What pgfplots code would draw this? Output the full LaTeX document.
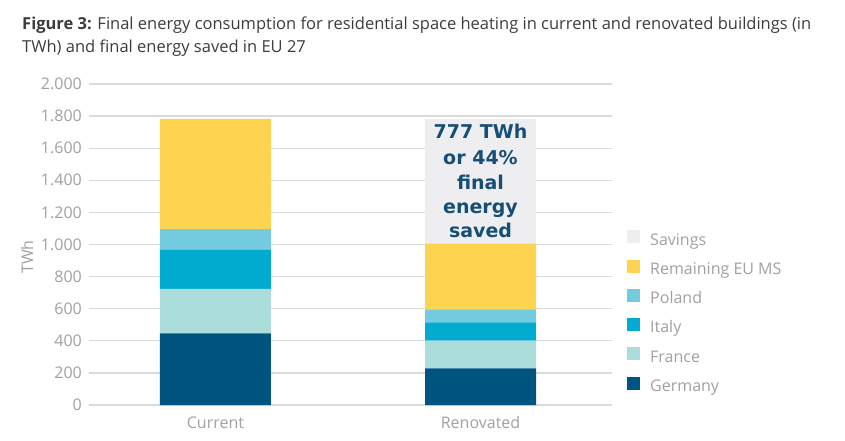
\documentclass[border=0pt]{standalone}
\usepackage{fontspec}
\setmainfont{Open Sans}
\newfontfamily\labfont{DejaVu Sans}
\usepackage{pgfplots}
\pgfplotsset{compat=1.18}
\definecolor{cGermany}{RGB}{0,84,128}
\definecolor{cFrance}{RGB}{171,221,218}
\definecolor{cItaly}{RGB}{0,171,207}
\definecolor{cPoland}{RGB}{116,203,224}
\definecolor{cRemain}{RGB}{253,211,79}
\definecolor{cSavings}{RGB}{238,238,240}
\definecolor{titlegray}{RGB}{60,60,60}
\definecolor{tickgray}{RGB}{160,160,160}
\definecolor{gridgray}{RGB}{218,218,218}
\definecolor{labblue}{RGB}{22,78,117}
\begin{document}
\begin{tikzpicture}[x=1pt,y=1pt]
\useasboundingbox (0,0) rectangle (845,-441);
\node[anchor=base west, inner sep=0pt, font=\fontsize{16.5}{19}\selectfont, text=titlegray] at (22,-30)
  {\textbf{Figure 3:} Final energy consumption for residential space heating in current and renovated buildings (in};
\node[anchor=base west, inner sep=0pt, font=\fontsize{16.5}{19}\selectfont, text=titlegray] at (22,-53)
  {TWh) and final energy saved in EU 27};
\begin{axis}[
  at={(89pt,-405pt)}, anchor=south west,
  scale only axis, width=523pt, height=321pt,
  ybar stacked, bar width=111pt,
  xmin=-0.477, xmax=1.496, ymin=0, ymax=2000,
  ytick={0,200,...,2000},
  xtick={0,1}, xticklabels={Current,Renovated},
  ymajorgrids, grid style={draw=gridgray, line width=1.3pt},
  axis line style={draw=none},
  major tick length=0pt,
  tick label style={font=\fontsize{16}{19}\selectfont, text=tickgray},
  yticklabel style={inner sep=0pt, xshift=-7pt},
  xticklabel style={inner sep=0pt, anchor=base, yshift=-23pt},
  ylabel={TWh},
  ylabel style={at={(axis description cs:-0.107,0.461)}, anchor=base, font=\fontsize{16}{19}\selectfont, text=tickgray},
  /pgf/number format/1000 sep={.},
  /pgf/number format/assume math mode=true,
  reverse legend,
  legend style={at={(axis description cs:1.0287,0.545)}, anchor=north west, draw=none, fill=none,
    inner sep=0pt, font=\fontsize{16}{19}\selectfont, text=tickgray, row sep=11pt,
    nodes={inner sep=0pt, text height=11pt, text depth=3.5pt}},
  legend cell align=left,
  legend image code/.code={\fill[#1,draw=none] (0pt,-2pt) rectangle (13pt,11pt); \path (23pt,0pt);},
]
\addplot[fill=cGermany, draw=none] coordinates {(0,447) (1,228)};
\addplot[fill=cFrance, draw=none] coordinates {(0,276) (1,173)};
\addplot[fill=cItaly, draw=none] coordinates {(0,243) (1,114)};
\addplot[fill=cPoland, draw=none] coordinates {(0,130) (1,81)};
\addplot[fill=cRemain, draw=none] coordinates {(0,686) (1,409)};
\addplot[fill=cSavings, draw=none] coordinates {(0,0) (1,777)};
\legend{Germany,France,Italy,Poland,Remaining EU MS,Savings}
\end{axis}
\begin{scope}[every node/.style={anchor=base, inner sep=0pt, text=labblue, font=\labfont\bfseries\fontsize{19}{23}\selectfont}]
\node at (480.5,-139) {777 TWh};
\node at (480.5,-164) {or 44\%};
\node at (480.5,-189) {final};
\node at (480.5,-213.5) {energy};
\node at (480.5,-237.5) {saved};
\end{scope}
\end{tikzpicture}
\end{document}
